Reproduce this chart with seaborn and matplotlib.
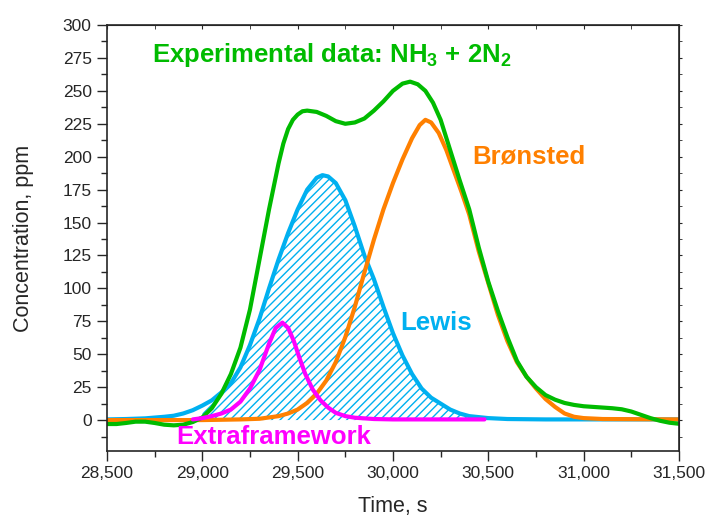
import numpy as np
import pandas as pd
import matplotlib
matplotlib.use("Agg")
import matplotlib.pyplot as plt
import seaborn as sns
from matplotlib.ticker import MultipleLocator, StrMethodFormatter

sns.set_style("ticks")
plt.rcParams['font.family'] = ['Liberation Sans', 'DejaVu Sans']
plt.rcParams['mathtext.fontset'] = 'custom'
plt.rcParams['mathtext.rm'] = 'Liberation Sans:bold'
plt.rcParams['mathtext.it'] = 'Liberation Sans:bold'
plt.rcParams['mathtext.bf'] = 'Liberation Sans:bold'
plt.rcParams['hatch.linewidth'] = 1.0

# %% values
exp_time = [28500, 28550, 28600, 28650, 28700, 28750, 28800, 28850, 28900, 28950,
            29000, 29050, 29100, 29150, 29200, 29250, 29300, 29350, 29400, 29425,
            29450, 29475, 29500, 29525, 29550, 29600, 29650, 29700, 29750, 29800,
            29850, 29900, 29950, 30000, 30050, 30090, 30130, 30170, 30210, 30250,
            30300, 30350, 30400, 30450, 30500, 30550, 30600, 30650, 30700, 30750,
            30800, 30850, 30900, 30950, 31000, 31050, 31100, 31150, 31200, 31250,
            31300, 31350, 31400, 31450, 31500]
exp_conc = [-3, -3, -2.2, -1.2, -1.2, -2.2, -3.5, -4, -3.5, -1.5,
            2, 9, 20, 35, 55, 84, 122, 160, 195, 210,
            221, 228, 232, 234.5, 235, 234, 231, 227, 225, 226,
            229, 235, 242, 250, 255.5, 257, 255, 250, 241, 228,
            205, 182, 160, 131, 105, 83, 63, 45, 33, 25,
            19, 15.5, 13, 11.5, 10.5, 10, 9.5, 9, 8.2, 6.5,
            4, 1.5, -0.5, -2, -2.8]

bronsted_time = [28500, 29000, 29200, 29300, 29400, 29450, 29500, 29550, 29600, 29650,
                 29700, 29750, 29800, 29850, 29900, 29950, 30000, 30050, 30100, 30140,
                 30170, 30200, 30240, 30280, 30320, 30360, 30400, 30450, 30500, 30550,
                 30600, 30650, 30700, 30750, 30800, 30850, 30900, 30950, 31000, 31100,
                 31500]
bronsted_conc = [0, 0, 0.5, 1, 3, 5, 8, 13, 20, 30,
                 44, 63, 86, 112, 137, 160, 180, 198, 214, 224,
                 228, 226, 218, 205, 189, 173, 156, 128, 104, 80,
                 60, 44, 33, 24, 16, 10, 5, 2.5, 1.5, 0.8,
                 0.5]

lewis_time = [28500, 28600, 28700, 28800, 28850, 28900, 28950, 29000, 29050, 29100,
              29150, 29200, 29250, 29300, 29350, 29400, 29450, 29500, 29550, 29600,
              29630, 29660, 29700, 29750, 29800, 29850, 29900, 29950, 30000, 30050,
              30100, 30150, 30200, 30250, 30300, 30350, 30400, 30500, 30600, 30800,
              31500]
lewis_conc = [0.5, 0.8, 1.3, 2.5, 3.3, 5, 7.5, 11, 15, 21,
              28, 40, 57, 77, 100, 122, 142, 160, 175, 184,
              186, 185, 180, 167, 147, 125, 107, 86, 66, 49,
              35, 24, 17, 12.5, 8, 5, 3, 1.5, 0.8, 0.5,
              0.5]

extra_time = [28950, 29000, 29050, 29100, 29150, 29200, 29250, 29300, 29350, 29385,
              29420, 29450, 29480, 29510, 29540, 29580, 29620, 29660, 29700, 29750,
              29800, 29900, 30000, 30480]
extra_conc = [0.5, 1.5, 3, 5, 8, 14, 24, 38, 58, 70,
              74, 70, 60, 47, 35, 23, 15, 9.5, 5.5, 3,
              1.8, 0.8, 0.5, 0.5]

x_ticks = [28500, 29000, 29500, 30000, 30500, 31000, 31500]
y_ticks = [0, 25, 50, 75, 100, 125, 150, 175, 200, 225, 250, 275, 300]

green = "#00BB00"
orange = "#FF8000"
cyan = "#00B0F0"
magenta = "#FF00FF"

# %%
exp_df = pd.DataFrame({"time": exp_time, "conc": exp_conc})
bronsted_df = pd.DataFrame({"time": bronsted_time, "conc": bronsted_conc})
lewis_df = pd.DataFrame({"time": lewis_time, "conc": lewis_conc})
extra_df = pd.DataFrame({"time": extra_time, "conc": extra_conc})

fig = plt.figure(figsize=(7.08, 5.18), dpi=100)
ax = fig.add_axes([0.1511, 0.1293, 0.8079, 0.8224])

fill = lewis_df[(lewis_df["time"] >= 29000) & (lewis_df["time"] <= 30500)]
ax.fill_between(fill["time"], 0, fill["conc"], facecolor="none", edgecolor=cyan,
                hatch="////", linewidth=0)

sns.lineplot(data=lewis_df, x="time", y="conc", color=cyan, lw=3, estimator=None, ax=ax)
sns.lineplot(data=bronsted_df, x="time", y="conc", color=orange, lw=3, estimator=None, ax=ax)
sns.lineplot(data=exp_df, x="time", y="conc", color=green, lw=3, estimator=None, ax=ax)
sns.lineplot(data=extra_df, x="time", y="conc", color=magenta, lw=3, estimator=None, ax=ax)

ax.text(28736, 277, "Experimental data: NH$_3$ + 2N$_2$", color=green, fontsize=18.5,
        fontweight="bold", va="center")
ax.text(30414, 200, "Brønsted", color=orange, fontsize=18.5, fontweight="bold", va="center")
ax.text(30037, 74, "Lewis", color=cyan, fontsize=18.5, fontweight="bold", va="center")
ax.text(28862, -13, "Extraframework", color=magenta, fontsize=18.5, fontweight="bold", va="center")

ax.set_xlim(28500, 31500)
ax.set_ylim(-23.5, 300)
ax.set_xticks(x_ticks)
ax.set_yticks(y_ticks)
ax.xaxis.set_major_formatter(StrMethodFormatter("{x:,.0f}"))
ax.xaxis.set_minor_locator(MultipleLocator(250))
ax.yaxis.set_minor_locator(MultipleLocator(12.5))
ax.tick_params(which="major", direction="out", length=7, width=1, labelsize=12.5, pad=4)
ax.tick_params(which="minor", direction="out", length=4, width=1)

top = ax.secondary_xaxis("top")
top.set_xticks(x_ticks)
top.xaxis.set_minor_locator(MultipleLocator(250))
top.tick_params(which="both", direction="in", length=3, labeltop=False)
right = ax.secondary_yaxis("right")
right.set_yticks(y_ticks)
right.yaxis.set_minor_locator(MultipleLocator(12.5))
right.tick_params(which="both", direction="out", length=2, labelright=False)

for s in ax.spines.values():
    s.set_linewidth(1.2)
    s.set_visible(True)

ax.set_xlabel("Time, s", fontsize=15.5)
ax.set_ylabel("Concentration, ppm", fontsize=15.5)
ax.xaxis.set_label_coords(0.5, -0.105)
ax.yaxis.set_label_coords(-0.128, 0.5)

fig.savefig("out.png", dpi=100)
